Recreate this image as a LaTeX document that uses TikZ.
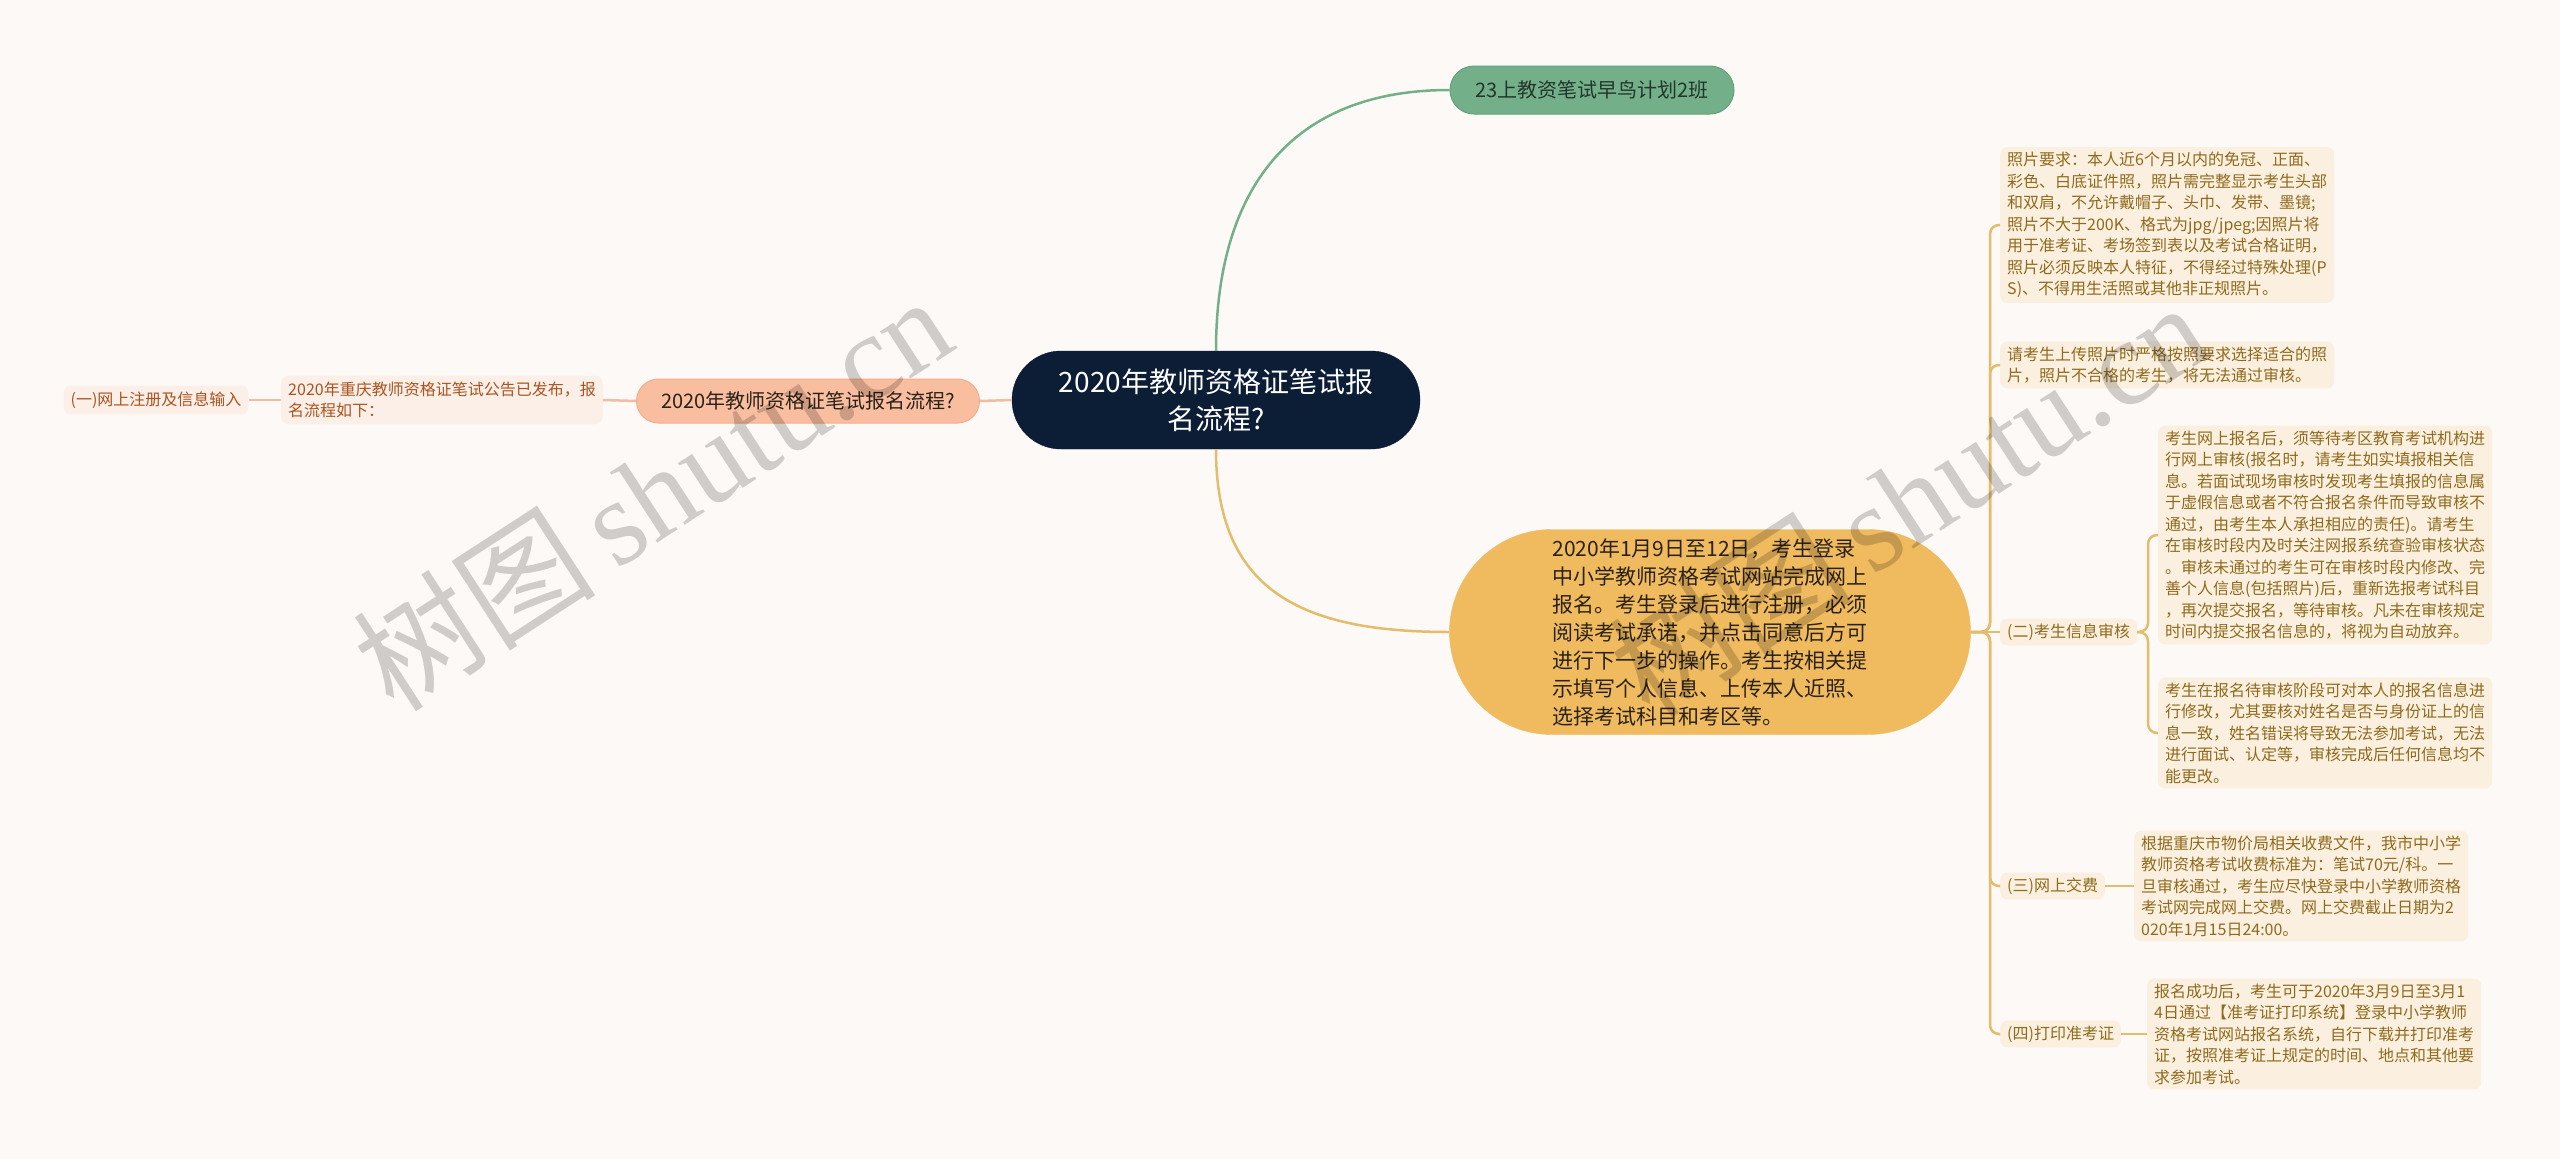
\documentclass[tikz,border=0pt]{standalone}
\usepackage{fontspec}
\setmainfont{Noto Sans CJK SC}
\newfontfamily\wmserif{Liberation Serif}
\usetikzlibrary{shapes.misc}
\definecolor{bgc}{HTML}{FDF9F7}
\definecolor{rootc}{HTML}{0C1D36}
\definecolor{greenc}{HTML}{73B08A}
\definecolor{greend}{HTML}{62A27B}
\definecolor{greentext}{HTML}{24352B}
\definecolor{peachc}{HTML}{F9BE9F}
\definecolor{peachd}{HTML}{F3AE8B}
\definecolor{peachline}{HTML}{F2BBA2}
\definecolor{peachbox}{HTML}{FCEFE8}
\definecolor{peachtext}{HTML}{A9541F}
\definecolor{orangec}{HTML}{F0BA5E}
\definecolor{goldline}{HTML}{E3BC6C}
\definecolor{goldbox}{HTML}{FBF0E0}
\definecolor{goldtext}{HTML}{8F6A1C}
\definecolor{darktext}{HTML}{2A2218}
\tikzset{
  rootbox/.style={rounded rectangle, fill=rootc, draw=rootc, minimum width=408pt, minimum height=98pt, inner sep=0pt, text=white, align=center, font=\fontsize{28pt}{37pt}\selectfont},
  greenbox/.style={rounded rectangle, fill=greenc, draw=greend, line width=1pt, minimum width=284pt, minimum height=48pt, inner sep=0pt, text=greentext, font=\fontsize{20pt}{24pt}\selectfont},
  peachmain/.style={rounded rectangle, fill=peachc, draw=peachd, line width=1pt, minimum width=343pt, minimum height=44pt, inner sep=0pt, text=darktext, font=\fontsize{20pt}{24pt}\selectfont},
  peachsub/.style={rectangle, rounded corners=7pt, fill=peachbox, inner xsep=7pt, inner ysep=6pt, text=peachtext, align=left, font=\fontsize{16pt}{21.5pt}\selectfont},
  orangebox/.style={rounded rectangle, fill=orangec, draw=orangec, minimum width=521pt, minimum height=205pt, inner sep=0pt, text=darktext, align=left, font=\fontsize{21pt}{28pt}\selectfont},
  goldsub/.style={rectangle, rounded corners=7pt, fill=goldbox, anchor=west, inner xsep=7pt, inner ysep=5pt, text=goldtext, align=left, font=\fontsize{16pt}{21.5pt}\selectfont},
  greenline/.style={draw=greenc, line width=2.5pt},
  peachlink/.style={draw=peachline, line width=2.5pt},
  goldlink/.style={draw=goldline, line width=2.5pt, rounded corners=9pt},
  wmark/.style={rotate=33, text=black, text opacity=0.18, inner sep=0pt, font=\fontsize{122pt}{130pt}\selectfont}
}
\begin{document}
\begin{tikzpicture}[x=1pt, y=-1pt]
\useasboundingbox (0,0) rectangle (2560,1159);
\fill[bgc] (0,0) rectangle (2560,1159);

% nodes
\node[rootbox] (root) at (1216,400) {2020年教师资格证笔试报\\名流程?};
\node[greenbox] (green) at (1592,90) {23上教资笔试早鸟计划2班};
\node[peachmain] (lmain) at (808,401) {2020年教师资格证笔试报名流程?};
\node[peachsub] (ltext) at (442,400) {2020年重庆教师资格证笔试公告已发布，报\\名流程如下：};
\node[peachsub] (lone) at (156,400) {(一)网上注册及信息输入};
\node[orangebox] (orange) at (1710,632) {2020年1月9日至12日，考生登录\\中小学教师资格考试网站完成网上\\报名。考生登录后进行注册，必须\\阅读考试承诺，并点击同意后方可\\进行下一步的操作。考生按相关提\\示填写个人信息、上传本人近照、\\选择考试科目和考区等。};

\node[goldsub] (photo) at (2000,225) {照片要求：本人近6个月以内的免冠、正面、\\彩色、白底证件照，照片需完整显示考生头部\\和双肩，不允许戴帽子、头巾、发带、墨镜;\\照片不大于200K、格式为jpg/jpeg;因照片将\\用于准考证、考场签到表以及考试合格证明，\\照片必须反映本人特征，不得经过特殊处理(P\\S)、不得用生活照或其他非正规照片。};
\node[goldsub] (upload) at (2000,365) {请考生上传照片时严格按照要求选择适合的照\\片，照片不合格的考生，将无法通过审核。};
\node[goldsub] (two) at (2000,632) {(二)考生信息审核};
\node[goldsub] (twoa) at (2158,535) {考生网上报名后，须等待考区教育考试机构进\\行网上审核(报名时，请考生如实填报相关信\\息。若面试现场审核时发现考生填报的信息属\\于虚假信息或者不符合报名条件而导致审核不\\通过，由考生本人承担相应的责任)。请考生\\在审核时段内及时关注网报系统查验审核状态\\。审核未通过的考生可在审核时段内修改、完\\善个人信息(包括照片)后，重新选报考试科目\\，再次提交报名，等待审核。凡未在审核规定\\时间内提交报名信息的，将视为自动放弃。};
\node[goldsub] (twob) at (2158,733) {考生在报名待审核阶段可对本人的报名信息进\\行修改，尤其要核对姓名是否与身份证上的信\\息一致，姓名错误将导致无法参加考试，无法\\进行面试、认定等，审核完成后任何信息均不\\能更改。};
\node[goldsub] (three) at (2000,886) {(三)网上交费};
\node[goldsub] (threea) at (2134,886) {根据重庆市物价局相关收费文件，我市中小学\\教师资格考试收费标准为：笔试70元/科。一\\旦审核通过，考生应尽快登录中小学教师资格\\考试网完成网上交费。网上交费截止日期为2\\020年1月15日24:00。};
\node[goldsub] (four) at (2000,1034) {(四)打印准考证};
\node[goldsub] (foura) at (2147,1034) {报名成功后，考生可于2020年3月9日至3月1\\4日通过【准考证打印系统】登录中小学教师\\资格考试网站报名系统，自行下载并打印准考\\证，按照准考证上规定的时间、地点和其他要\\求参加考试。};

\coordinate (br1) at (1990,632);
\coordinate (br2) at (2148,632);

% connectors
\draw[greenline] (root.north) .. controls (1216,190) and (1290,90) .. (green.west);
\draw[goldlink, rounded corners=0pt] (root.south) .. controls (1216,590) and (1300,632) .. (orange.west);
\draw[peachlink] (root.west) -- (lmain.east);
\draw[peachlink] (lmain.west) -- (ltext.east);
\draw[peachlink] (ltext.west) -- (lone.east);

\draw[goldlink] (orange.east) -- (br1) |- (photo.west);
\draw[goldlink] (orange.east) -- (br1) |- (upload.west);
\draw[goldlink] (orange.east) -- (two.west);
\draw[goldlink] (orange.east) -- (br1) |- (three.west);
\draw[goldlink] (orange.east) -- (br1) |- (four.west);
\draw[goldlink] (two.east) -- (br2) |- (twoa.west);
\draw[goldlink] (two.east) -- (br2) |- (twob.west);
\draw[goldlink] (three.east) -- (threea.west);
\draw[goldlink] (four.east) -- (foura.west);

% watermarks
\node[wmark] (wm1) at (652,492) {树图\,{\wmserif shutu.cn}};
\node[wmark] (wm2) at (1908,498) {树图\,{\wmserif shutu.cn}};
\end{tikzpicture}
\end{document}
